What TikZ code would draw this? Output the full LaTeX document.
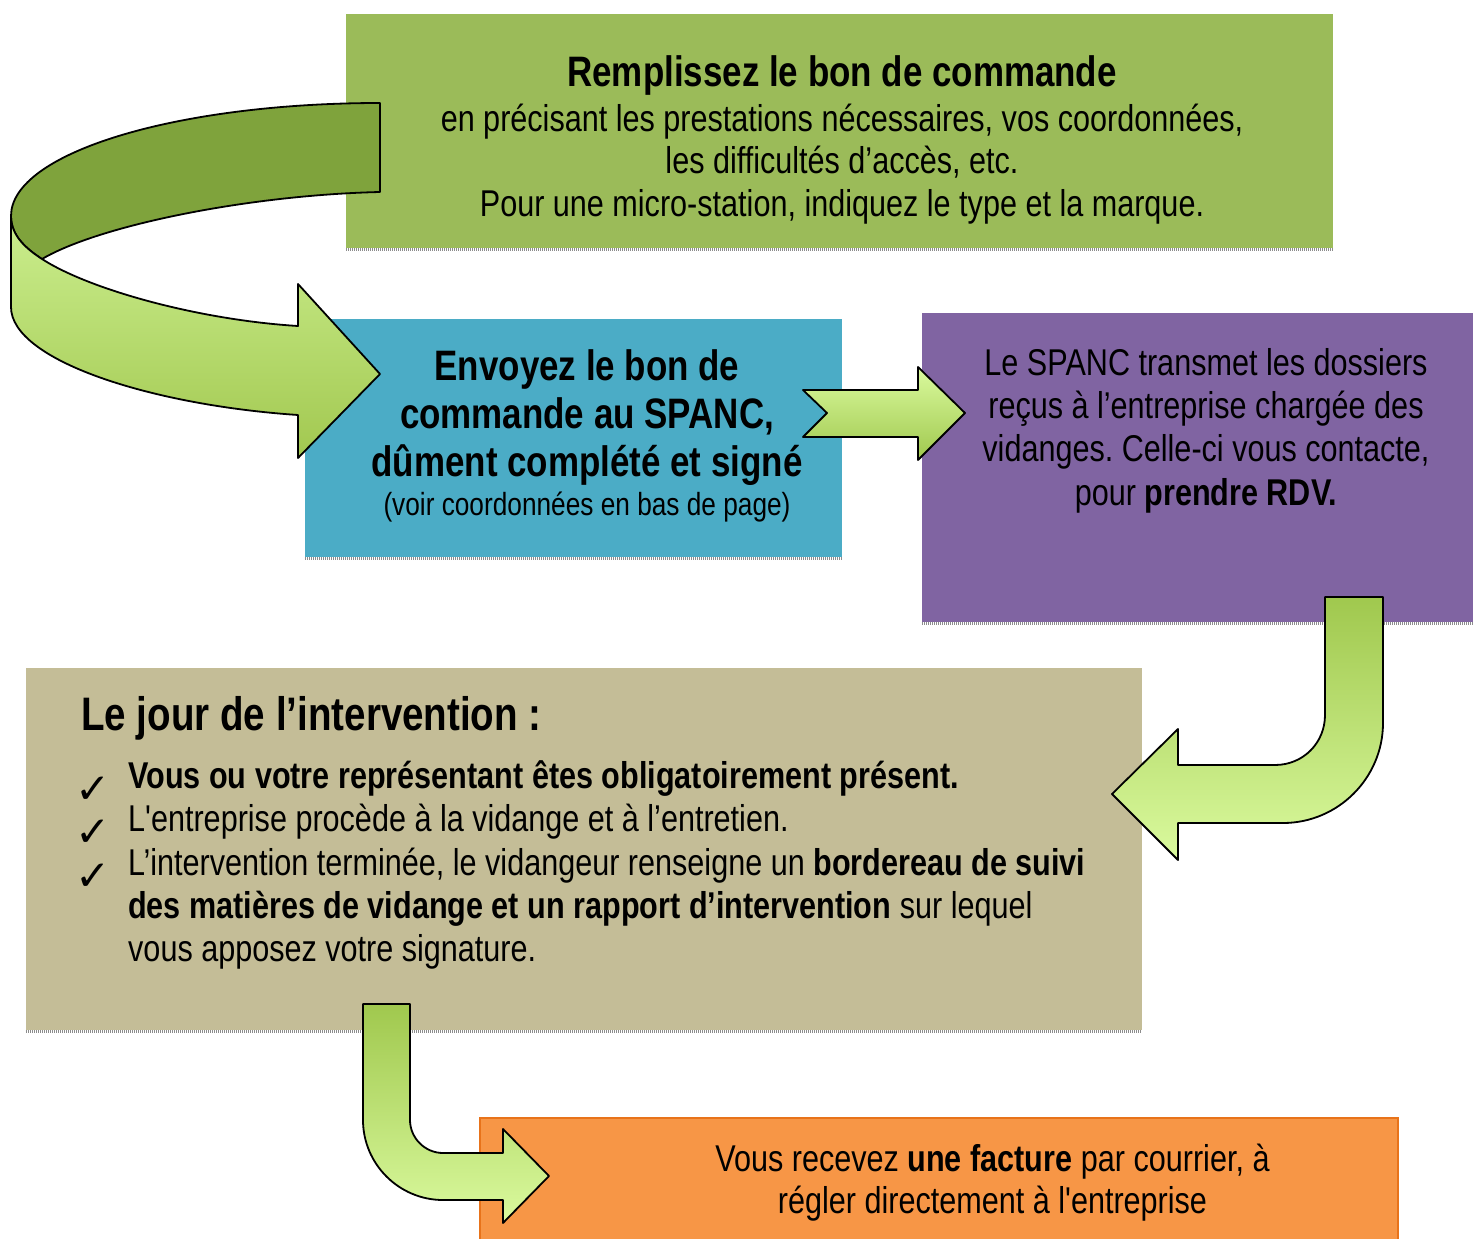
\documentclass[tikz,border=0pt]{standalone}
\usepackage{fontspec}
\setmainfont{Liberation Sans}[FakeStretch=0.82,Ligatures=TeXOff]
\newfontfamily\symf{DejaVu Sans}
\frenchspacing
\definecolor{gbox}{HTML}{9BBB59}
\definecolor{bbox}{HTML}{4BACC6}
\definecolor{pbox}{HTML}{8064A2}
\definecolor{tbox}{HTML}{C4BD97}
\definecolor{obox}{HTML}{F79646}
\definecolor{oborder}{HTML}{E8731A}
\definecolor{dkgreen}{HTML}{7FA33C}
\definecolor{lgA}{HTML}{CBEE8E}
\definecolor{lgB}{HTML}{A2C850}
\definecolor{arrLight}{HTML}{DAFA9E}
\definecolor{arrDark}{HTML}{A0C84E}
\newcommand\myreg{\fontsize{37.3}{43}\selectfont}
\newcommand\mybig{\fontsize{42.6}{49}\selectfont\bfseries}
\newcommand\mysmall{\fontsize{32}{37}\selectfont}
\newcommand\myhead{\fontsize{47}{54}\selectfont\bfseries}
\tikzset{
  box/.style={inner sep=0pt, outer sep=0pt, anchor=north west, draw=none},
  shadowline/.style={draw=black!45, line width=3pt, dash pattern=on 1pt off 1pt},
  txt/.style={inner sep=0pt, anchor=base, font=\myreg\frenchspacing},
  ltxt/.style={inner sep=0pt, anchor=base west, font=\myreg},
  chk/.style={inner sep=0pt, anchor=center, font=\symf\fontsize{42}{42}\selectfont},
  blockarrow/.style={draw=black, line width=1.8pt, line join=round},
  downshade/.style={blockarrow, top color=arrDark, bottom color=arrLight},
  upshade/.style={blockarrow, top color=arrLight, bottom color=arrDark},
}
\begin{document}
\begin{tikzpicture}[x=1pt,y=-1pt]
\useasboundingbox (0,0) rectangle (1473,1239);
\fill[white] (0,0) rectangle (1473,1239);

% boxes
\node[box, fill=gbox, minimum width=987pt, minimum height=234pt] (green) at (346,14) {};
\node[box, fill=bbox, minimum width=537pt, minimum height=238pt] (blue) at (305,319) {};
\node[box, fill=pbox, minimum width=551pt, minimum height=309pt] (purple) at (922,313) {};
\node[box, fill=tbox, minimum width=1116pt, minimum height=362pt] (tan) at (26,668) {};
\node[box, fill=obox, draw=oborder, line width=1.5pt, minimum width=918pt, minimum height=130pt] (orange) at (480,1118) {};

\foreach \b in {green,blue,purple,tan}
  \draw[shadowline] ([yshift=-1.5pt]\b.south west) -- ([yshift=-1.5pt]\b.south east);

% curved arrow from green to blue
\path[blockarrow, fill=dkgreen]
  (380,103) .. controls (176,103) and (11,153) .. (11,216)
  .. controls (11,235) and (25,248) .. (42,259)
  .. controls (100,225) and (250,195) .. (380,192) -- cycle;
\path[blockarrow, top color=lgA, bottom color=lgB]
  (42,259) .. controls (90,290) and (200,320) .. (298,326)
  -- (298,284) -- (380,374) -- (298,458) -- (298,415)
  .. controls (150,405) and (11,360) .. (11,307)
  -- (11,216) .. controls (11,235) and (25,248) .. (42,259) -- cycle;

% notched arrow from blue to purple
\path[upshade]
  (803,390) -- (918,390) -- (918,367) -- (965,413) -- (918,460)
  -- (918,437) -- (803,437) -- (827,413) -- cycle;

% bent arrow from purple to tan
\path[downshade]
  (1325,597) -- (1383,597) -- (1383,723)
  .. controls (1383,778) and (1338,823) .. (1283,823)
  -- (1178,823) -- (1178,860) -- (1112,794) -- (1178,729) -- (1178,765)
  -- (1275,765) .. controls (1303,765) and (1325,743) .. (1325,715) -- cycle;

% bent arrow from tan to orange
\path[downshade]
  (363,1004) -- (410,1004) -- (410,1120)
  .. controls (410,1138) and (425,1153) .. (443,1153)
  -- (503,1153) -- (503,1129) -- (549,1176) -- (503,1223) -- (503,1200)
  -- (443,1200) .. controls (399,1200) and (363,1164) .. (363,1120) -- cycle;

% green text
\node[txt, font=\mybig] (g1) at (842,86.7) {Remplissez le bon de commande};
\node[txt] (g2) at (842,131) {en précisant les prestations nécessaires, vos coordonnées,};
\node[txt] (g3) at (842,173.3) {les difficultés d’accès, etc.};
\node[txt] (g4) at (842,216.7) {Pour une micro-station, indiquez le type et la marque.};

% blue text
\node[txt, font=\mybig] (b1) at (587,380) {Envoyez le bon de};
\node[txt, font=\mybig] (b2) at (587,428.3) {commande au SPANC,};
\node[txt, font=\mybig] (b3) at (587,476.7) {dûment complété et signé};
\node[txt, font=\mysmall] (b4) at (587,515) {(voir coordonnées en bas de page)};

% purple text
\node[txt] (p1) at (1206,375) {Le SPANC transmet les dossiers};
\node[txt] (p2) at (1206,418.3) {reçus à l’entreprise chargée des};
\node[txt] (p3) at (1206,461.7) {vidanges. Celle-ci vous contacte,};
\node[txt] (p4) at (1206,505) {pour \textbf{prendre RDV.}};

% tan text
\node[ltxt, font=\myhead] (t0) at (81,730) {Le jour de l’intervention :};
\node[chk] (c1) at (93,790) {✓};
\node[chk] (c2) at (93,833) {✓};
\node[chk] (c3) at (93,877) {✓};
\node[ltxt] (t1) at (128,788.3) {\textbf{Vous ou votre représentant êtes obligatoirement présent.}};
\node[ltxt] (t2) at (128,831.7) {L'entreprise procède à la vidange et à l’entretien.};
\node[ltxt] (t3) at (128,875) {L’intervention terminée, le vidangeur renseigne un \textbf{bordereau de suivi}};
\node[ltxt] (t4) at (128,918.3) {\textbf{des matières de vidange et un rapport d’intervention} sur lequel};
\node[ltxt] (t5) at (128,961.7) {vous apposez votre signature.};

% orange text
\node[txt] (o1) at (992.5,1171.7) {Vous recevez \textbf{une facture} par courrier, à};
\node[txt] (o2) at (992.5,1213.3) {régler directement à l'entreprise};
\end{tikzpicture}
\end{document}
